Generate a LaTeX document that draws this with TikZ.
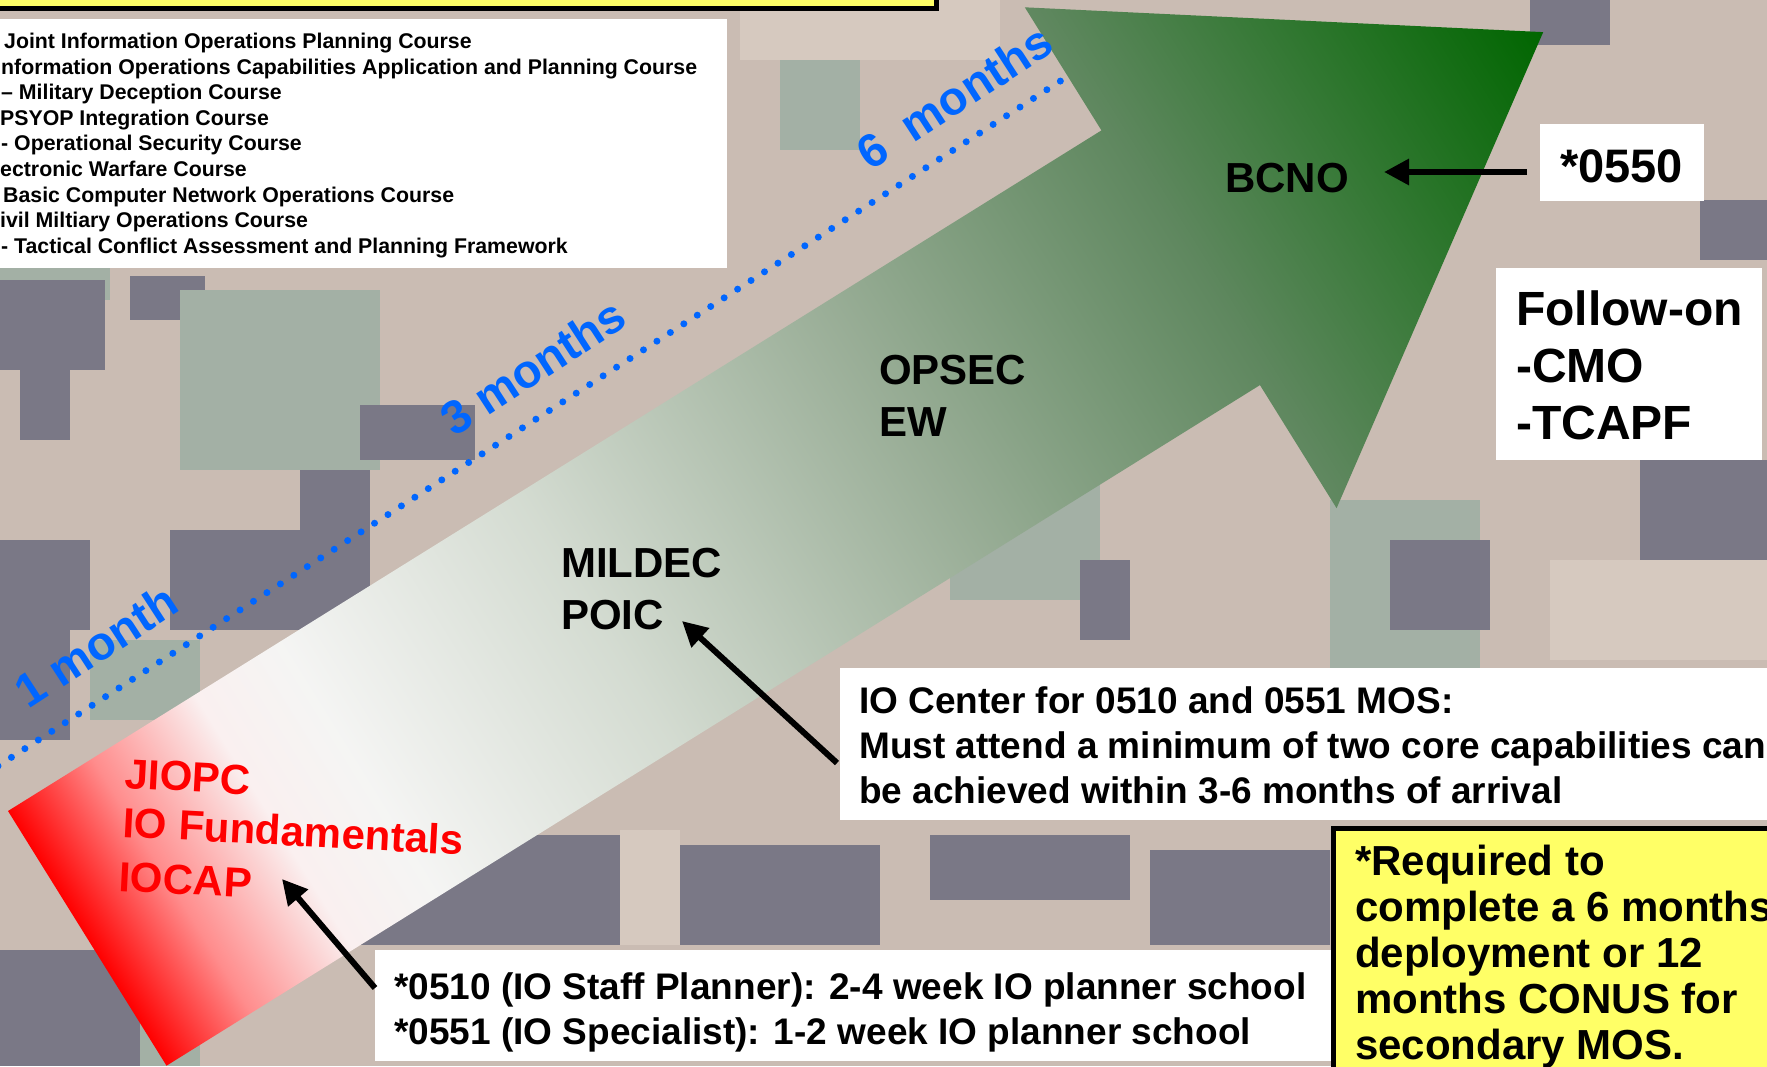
\documentclass[tikz,border=0pt]{standalone}
\usepackage{fontspec}
\setmainfont{Liberation Sans}
\usetikzlibrary{arrows.meta,calc}
\definecolor{monblue}{RGB}{0,102,255}
\definecolor{hlyellow}{RGB}{255,255,102}
\definecolor{camoT}{RGB}{202,188,179}
\definecolor{camoD}{RGB}{122,120,134}
\definecolor{camoG}{RGB}{163,176,165}
\definecolor{camoL}{RGB}{214,201,191}
\pgfdeclarehorizontalshading{arrowshade}{100bp}{rgb(0bp)=(1,0,0); rgb(25bp)=(1,0,0); rgb(27.9bp)=(1,0.55,0.55); rgb(31.4bp)=(0.98,0.94,0.94); rgb(34.3bp)=(0.96,0.96,0.955); rgb(42.5bp)=(0.83,0.86,0.82); rgb(53.1bp)=(0.6,0.68,0.59); rgb(62.9bp)=(0.37,0.53,0.37); rgb(75bp)=(0,0.4,0); rgb(100bp)=(0,0.4,0)}
\tikzset{
  leg/.style={font=\bfseries\fontsize{21.3}{25}\selectfont, inner sep=0pt, anchor=base west},
  lbl/.style={font=\bfseries\fontsize{42}{50}\selectfont, inner sep=0pt, anchor=base west},
  body/.style={font=\bfseries\fontsize{37}{44}\selectfont, inner sep=0pt, anchor=base west},
  redlbl/.style={lbl, text=red, rotate=-3},
  mon/.style={font=\bfseries\fontsize{47}{54}\selectfont, text=monblue, inner sep=0pt, rotate=33},
  wbox/.style={fill=white, draw=none, inner sep=0pt, outer sep=0pt, anchor=north west},
  ybox/.style={fill=hlyellow, draw=black, line width=5pt, inner sep=0pt, outer sep=0pt},
  ptr/.style={line width=6pt, -{Triangle[length=25pt,width=25pt]}},
  dotline/.style={monblue, line width=7pt, line cap=round, dash pattern=on 0pt off 16pt},
}
\begin{document}
\begin{tikzpicture}[x=1pt,y=-1pt]
\useasboundingbox (0,0) rectangle (1767,1066);
\begin{scope}
\clip (0,0) rectangle (1767,1066);
% camouflage background
\fill[camoT] (0,0) rectangle (1767,1066);
\fill[camoG] (0,268) rectangle (110,300);
\fill[camoD] (0,280) rectangle (105,370);
\fill[camoD] (130,276) rectangle (205,320);
\fill[camoD] (20,370) rectangle (70,440);
\fill[camoG] (180,290) rectangle (380,470);
\fill[camoD] (360,405) rectangle (475,460);
\fill[camoD] (300,470) rectangle (370,540);
\fill[camoD] (170,530) rectangle (370,630);
\fill[camoD] (0,540) rectangle (90,630);
\fill[camoD] (0,630) rectangle (70,740);
\fill[camoG] (90,640) rectangle (200,720);
\fill[camoD] (0,950) rectangle (140,1066);
\fill[camoG] (140,990) rectangle (200,1066);
\fill[camoD] (340,835) rectangle (630,945);
\fill[camoD] (680,845) rectangle (880,945);
\fill[camoL] (620,830) rectangle (680,945);
\fill[camoD] (930,835) rectangle (1130,900);
\fill[camoD] (1150,850) rectangle (1330,945);
\fill[camoG] (780,60) rectangle (860,150);
\fill[camoL] (740,0) rectangle (1000,60);
\fill[camoD] (1530,0) rectangle (1610,45);
\fill[camoD] (1700,200) rectangle (1767,260);
\fill[camoG] (1330,500) rectangle (1480,680);
\fill[camoD] (1390,540) rectangle (1490,630);
\fill[camoD] (1460,730) rectangle (1580,790);
\fill[camoD] (1640,460) rectangle (1767,560);
\fill[camoL] (1550,560) rectangle (1767,660);
\fill[camoG] (950,480) rectangle (1100,600);
\fill[camoD] (1080,560) rectangle (1130,640);
% big arrow
\begin{scope}[transform canvas={shift={(8,811)},rotate=31.9}]
\shade[shading=arrowshade] (0,0) -- (1288,0) -- (1288,-145) -- (1715,150) -- (1288,445) -- (1288,300) -- (0,300) -- cycle;
\end{scope}
% top yellow box
\node[ybox, minimum width=1000pt, minimum height=80pt, anchor=south east] (topbox) at (936.5,8.5) {};
% legend
\node[wbox, minimum width=732pt, minimum height=249pt] (legend) at (-5,19) {};
\foreach [count=\i] \xx/\yy/\t in {
  4/48/Joint Information Operations Planning Course,
  1/74/nformation Operations Capabilities Application and Planning Course,
  1/99/– Military Deception Course,
  0/125/PSYOP Integration Course,
  1/150/- Operational Security Course,
  0/176/ectronic Warfare Course,
  3/202/Basic Computer Network Operations Course,
  0/227/ivil Miltiary Operations Course,
  1/253/- Tactical Conflict Assessment and Planning Framework}
  \node[leg] (leg\i) at (\xx,\yy) {\t};
% dotted timeline and month labels
\coordinate (dotA) at (-2,766);
\coordinate (dotB) at (1062,80);
\draw[dotline] (dotA) -- (dotB);
\node[mon] (m1) at (96,646) {1 month};
\node[mon] (m3) at (533,367) {3 months};
\node[mon] (m6) at (954,97) {6\ \ months};
% labels on the arrow
\node[redlbl] (jiopc) at (124,788) {JIOPC};
\node[redlbl] (iofund) at (122,837) {IO Fundamentals};
\node[redlbl] (iocap) at (118,891) {IOCAP};
\node[lbl] (mildec) at (561,577) {MILDEC};
\node[lbl] (poic) at (561,629) {POIC};
\node[lbl] (opsec) at (879,384) {OPSEC};
\node[lbl] (ew) at (879,436) {EW};
\node[lbl] (bcno) at (1225,192) {BCNO};
% boxes on the right
\node[wbox, minimum width=164pt, minimum height=77pt] (b0550) at (1540,124) {};
\node[lbl, font=\bfseries\fontsize{47}{56}\selectfont] (t0550) at (1560,182) {*0550};
\node[wbox, minimum width=266pt, minimum height=192pt] (bfollow) at (1496,268) {};
\node[lbl, font=\bfseries\fontsize{48}{56}\selectfont] (fo1) at (1516,325) {Follow-on};
\node[lbl, font=\bfseries\fontsize{48}{56}\selectfont] (fo2) at (1516,382) {-CMO};
\node[lbl, font=\bfseries\fontsize{48}{56}\selectfont] (fo3) at (1516,439) {-TCAPF};
% IO center box
\node[wbox, minimum width=940pt, minimum height=152pt] (bio) at (840,668) {};
\node[body] (io1) at (859,713) {IO Center for 0510 and 0551 MOS:};
\node[body] (io2) at (859,758) {Must attend a minimum of two core capabilities can};
\node[body] (io3) at (859,803) {be achieved within 3-6 months of arrival};
% 0510 box
\node[wbox, minimum width=958pt, minimum height=111pt] (b0510) at (375,950) {};
\node[body] (s1) at (394,999) {*0510 (IO Staff Planner): 2-4 week IO planner school};
\node[body] (s2) at (394,1044) {*0551 (IO Specialist): 1-2 week IO planner school};
% yellow requirement box
\node[ybox, minimum width=480pt, minimum height=300pt, anchor=north west] (reqbox) at (1333.5,828.5) {};
\node[lbl] (r1) at (1355,875) {*Required to};
\node[lbl] (r2) at (1355,921) {complete a 6 months};
\node[lbl] (r3) at (1355,967) {deployment or 12};
\node[lbl] (r4) at (1355,1013) {months CONUS for};
\node[lbl] (r5) at (1355,1059) {secondary MOS.};
% pointers
\coordinate (tipB) at (1384,172);
\coordinate (tipI) at (282,879);
\coordinate (tipP) at (682,621);
\draw[ptr] ($(b0550.west |- tipB)+(-13,0)$) -- (tipB);
\draw[ptr] ($(b0510.north west)+(0,38)$) -- (tipI);
\draw[ptr] ($(bio.north west)+(-3,95)$) -- (tipP);
\end{scope}
\end{tikzpicture}
\end{document}
